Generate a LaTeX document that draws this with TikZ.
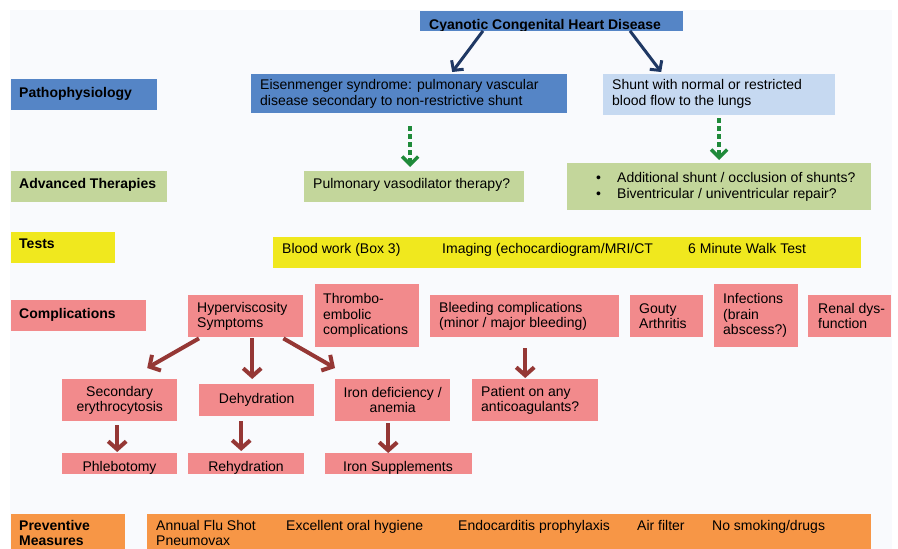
\documentclass[tikz,border=0pt]{standalone}
\usepackage{fontspec}
\setmainfont{Liberation Sans}
\usetikzlibrary{arrows.meta,calc}
\definecolor{bgc}{HTML}{F9FAFD}
\definecolor{blueA}{HTML}{5585C6}
\definecolor{blueB}{HTML}{C6D9F1}
\definecolor{greenA}{HTML}{C3D69B}
\definecolor{yellowA}{HTML}{F0E81E}
\definecolor{pinkA}{HTML}{F28A8C}
\definecolor{orangeA}{HTML}{F79646}
\definecolor{navy}{HTML}{1F3864}
\definecolor{darkred}{HTML}{953735}
\definecolor{greenD}{HTML}{1F8A3A}
\newcommand{\fs}{\fontsize{14}{15.5}\selectfont}
\begin{document}
\begin{tikzpicture}[x=1pt,y=-1pt,
  every node/.style={font=\fs},
  bx/.style={anchor=north west, inner sep=0pt, draw=none},
  cbx/.style={anchor=north west, inner sep=0pt, draw=none, align=center},
  tx/.style={anchor=west, inner sep=0pt, align=left},
  btx/.style={anchor=base west, inner sep=0pt},
  lab/.style={font=\fs\bfseries},
  navyarr/.style={draw=navy, line width=3pt, -{Straight Barb[length=7pt,width=15pt]}},
  redarr/.style={draw=darkred, line width=4pt, -{Straight Barb[length=8pt,width=18pt]}},
  greenarr/.style={draw=greenD, line width=3.5pt, dash pattern=on 5pt off 3pt, -{Straight Barb[length=8pt,width=16pt]}}
]
\useasboundingbox (0,0) rectangle (898,549);
\fill[white] (0,0) rectangle (898,549);
\fill[bgc] (10,10) rectangle (892,549);

% title
\node[bx, fill=blueA, minimum width=263pt, minimum height=19.5pt] (title) at (420,11) {};
\begin{scope}
\clip (title.north west) rectangle (title.south east);
\node[btx, lab] (titletext) at (429,29.3) {Cyanotic Congenital Heart Disease};
\end{scope}

% pathophysiology row
\node[bx, fill=blueA, minimum width=146pt, minimum height=31pt] (patho) at (11,79) {};
\node[tx, lab] (pathot) at ($(patho.west)+(8,-1)$) {Pathophysiology};
\node[bx, fill=blueA, minimum width=316pt, minimum height=39pt] (eis) at (251,74) {};
\node[tx] (eist) at ($(eis.west)+(9,0)$) {Eisenmenger syndrome: pulmonary vascular\\disease secondary to non-restrictive shunt};
\node[bx, fill=blueB, minimum width=232pt, minimum height=41pt] (shunt) at (603,74) {};
\node[tx] (shuntt) at ($(shunt.west)+(9,-1)$) {Shunt with normal or restricted\\blood flow to the lungs};

% advanced therapies row
\node[bx, fill=greenA, minimum width=156pt, minimum height=31pt] (adv) at (11,171) {};
\node[tx, lab] (advt) at ($(adv.west)+(8,-1.5)$) {Advanced Therapies};
\node[bx, fill=greenA, minimum width=220pt, minimum height=31pt] (vaso) at (304,171) {};
\node[tx] (vasot) at ($(vaso.west)+(9,-1.5)$) {Pulmonary vasodilator therapy?};
\node[bx, fill=greenA, minimum width=304pt, minimum height=47pt] (bul) at (567,163) {};
\node[tx] (bult) at ($(bul.west)+(29,0)$) {\makebox[21pt][l]{\textbullet}Additional shunt / occlusion of shunts?\\\makebox[21pt][l]{\textbullet}Biventricular / univentricular repair?};

% tests row
\node[bx, fill=yellowA, minimum width=104pt, minimum height=31pt] (tests) at (11,232) {};
\node[btx, lab] (testst) at (19,248) {Tests};
\node[bx, fill=yellowA, minimum width=588pt, minimum height=31pt] (testbox) at (273,237) {};
\node[btx] (t1) at (282,253) {Blood work (Box 3)};
\node[btx] (t2) at (442,253) {Imaging (echocardiogram/MRI/CT};
\node[btx] (t3) at (688,253) {6 Minute Walk Test};

% complications row
\node[bx, fill=pinkA, minimum width=135pt, minimum height=31pt] (compl) at (11,300) {};
\node[tx, lab] (complt) at ($(compl.west)+(8,-0.5)$) {Complications};
\node[bx, fill=pinkA, minimum width=115pt, minimum height=42pt] (hyp) at (188,295) {};
\node[tx] (hypt) at ($(hyp.west)+(9,0)$) {Hyperviscosity\\Symptoms};
\node[bx, fill=pinkA, minimum width=104pt, minimum height=63pt] (thr) at (315,284) {};
\node[tx] (thrt) at ($(thr.west)+(8,0)$) {Thrombo-\\embolic\\complications};
\node[bx, fill=pinkA, minimum width=189pt, minimum height=42pt] (bleed) at (430,295) {};
\node[tx] (bleedt) at ($(bleed.west)+(9,0)$) {Bleeding complications\\(minor / major bleeding)};
\node[bx, fill=pinkA, minimum width=73pt, minimum height=42pt] (gout) at (630,295) {};
\node[tx] (goutt) at ($(gout.west)+(9,0)$) {Gouty\\Arthritis};
\node[bx, fill=pinkA, minimum width=84pt, minimum height=63pt] (inf) at (714,284) {};
\node[tx] (inft) at ($(inf.west)+(9,0)$) {Infections\\(brain\\abscess?)};
\node[bx, fill=pinkA, minimum width=83pt, minimum height=42pt] (renal) at (808,295) {};
\node[tx] (renalt) at ($(renal.west)+(10,0)$) {Renal dys-\\function};

% second level complications
\node[cbx, fill=pinkA, minimum width=115pt, minimum height=42pt] (sec) at (62,379) {Secondary\\erythrocytosis};
\node[cbx, fill=pinkA, minimum width=115pt, minimum height=32pt] (dehyd) at (199,384) {Dehydration};
\node[cbx, fill=pinkA, minimum width=115pt, minimum height=42pt] (iron) at (335,379) {Iron deficiency /\\anemia};
\node[bx, fill=pinkA, minimum width=126pt, minimum height=42pt] (pat) at (472,379) {};
\node[tx] (patt) at ($(pat.west)+(9,0)$) {Patient on any\\anticoagulants?};

% treatments (clipped)
\node[bx, fill=pinkA, minimum width=115pt, minimum height=20.5pt] (phleb) at (62,453) {};
\node[bx, fill=pinkA, minimum width=116pt, minimum height=20.5pt] (rehyd) at (188,453) {};
\node[bx, fill=pinkA, minimum width=147pt, minimum height=20.5pt] (suppl) at (325,453) {};
\begin{scope}
\clip (phleb.north west) rectangle (phleb.south east);
\node[anchor=base, inner sep=0pt] (phlebt) at (119.5,471.5) {Phlebotomy};
\end{scope}
\begin{scope}
\clip (rehyd.north west) rectangle (rehyd.south east);
\node[anchor=base, inner sep=0pt] (rehydt) at (246,471.5) {Rehydration};
\end{scope}
\begin{scope}
\clip (suppl.north west) rectangle (suppl.south east);
\node[anchor=base, inner sep=0pt] (supplt) at (398,471.5) {Iron Supplements};
\end{scope}

% preventive measures
\node[bx, fill=orangeA, minimum width=114pt, minimum height=50pt] (prev) at (11,514) {};
\node[anchor=north west, inner sep=0pt, align=left, lab] (prevt) at (19,520) {Preventive\\Measures};
\node[bx, fill=orangeA, minimum width=724pt, minimum height=50pt] (prevbox) at (147,514) {};
\node[anchor=north west, inner sep=0pt, align=left] (p1) at (156,520) {Annual Flu Shot\\Pneumovax};
\node[btx] (p2) at (286,530) {Excellent oral hygiene};
\node[btx] (p3) at (458,530) {Endocarditis prophylaxis};
\node[btx] (p4) at (637,530) {Air filter};
\node[btx] (p5) at (712,530) {No smoking/drugs};

% connectors
\draw[navyarr] ($(title.south west)+(63,0)$) -- ($(eis.north)+(43,-2)$);
\draw[navyarr] ($(title.south west)+(210,0)$) -- ($(shunt.north)+(-58,-2)$);
\draw[greenarr] ($(eis.south)+(1,13)$) -- ($(vaso.north)+(-4,-4)$);
\draw[greenarr] ($(shunt.south)+(0,3)$) -- ($(bul.north)+(0,-3)$);

\draw[redarr] ($(hyp.south west)+(11,1)$) -- ($(sec.north)+(27.5,-11)$);
\draw[redarr] ($(hyp.south)+(6.5,1)$) -- ($(dehyd.north)+(-4.5,-5)$);
\draw[redarr] ($(hyp.south east)+(-20,1)$) -- ($(iron.north west)+(0,-11)$);
\draw[redarr] ($(bleed.south)+(0.5,11)$) -- ($(pat.north)+(-10,-1)$);
\draw[redarr] ($(sec.south)+(-2.5,4)$) -- ($(phleb.north)+(-2.5,-1)$);
\draw[redarr] ($(dehyd.south)+(-15.5,5)$) -- ($(rehyd.north)+(-5,-2)$);
\draw[redarr] ($(iron.south)+(-4.5,2)$) -- ($(suppl.north)+(-10.5,0)$);
\end{tikzpicture}
\end{document}
